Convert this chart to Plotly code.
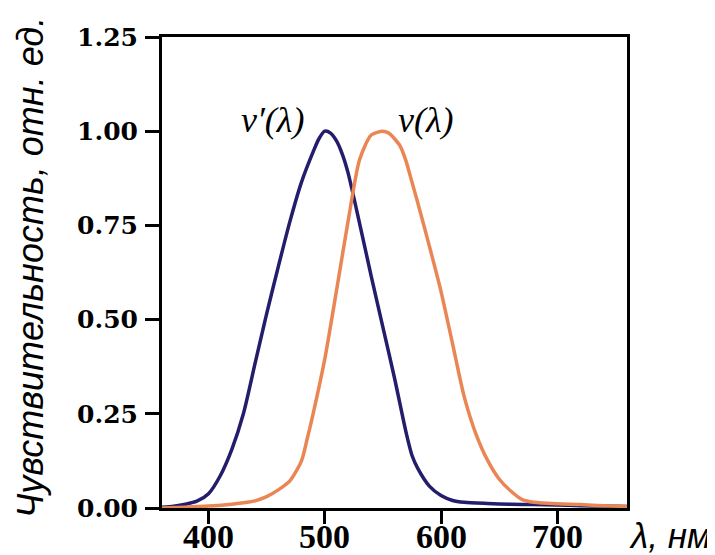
import plotly.graph_objects as go

# ---- data ----
wl_scot = [360, 370, 380, 390, 400, 410, 420, 430, 440, 450, 460, 470, 480, 490, 495, 500, 505, 510,
           515, 520, 530, 540, 550, 560, 570, 575, 580, 590, 600, 610, 620, 640, 660, 680, 700, 720,
           740, 760]
v_scot = [0.002, 0.005, 0.010, 0.018, 0.038, 0.085, 0.155, 0.250, 0.383, 0.515, 0.640, 0.760, 0.865,
          0.945, 0.980, 1.000, 0.995, 0.975, 0.940, 0.890, 0.755, 0.615, 0.480, 0.345, 0.200, 0.140,
          0.105, 0.058, 0.033, 0.020, 0.015, 0.012, 0.010, 0.009, 0.008, 0.006, 0.005, 0.004]

wl_phot = [360, 380, 400, 420, 430, 440, 450, 460, 470, 480, 485, 490, 500, 510, 520, 530, 540, 550,
           555, 560, 565, 570, 575, 580, 590, 600, 610, 620, 630, 640, 650, 660, 670, 680, 700, 720,
           740, 760]
v_phot = [0.000, 0.002, 0.005, 0.010, 0.014, 0.019, 0.030, 0.048, 0.072, 0.125, 0.185, 0.250, 0.395,
          0.575, 0.760, 0.925, 0.990, 1.000, 0.995, 0.980, 0.960, 0.920, 0.865, 0.810, 0.695, 0.575,
          0.435, 0.295, 0.197, 0.127, 0.077, 0.045, 0.022, 0.015, 0.011, 0.009, 0.006, 0.004]

x_ticks = [400, 500, 600, 700]
y_ticks = [0.00, 0.25, 0.50, 0.75, 1.00, 1.25]

label_scot = "ν′(λ)"
label_phot = "ν(λ)"
y_title = "Чувствительность, отн. ед."
x_title = "λ, нм"

# ---- layout geometry (pixels of the browser window; page body has an 8px margin) ----
OFF = 8
W, H = 715 - OFF, 555 - OFF
L, T = 162 - OFF, 37 - OFF
PW, PH = 465, 471
R, B = W - L - PW, H - T - PH


def px(x):
    return (x - OFF - L) / PW


def py(y):
    return (T + PH - (y - OFF)) / PH


BLUE = "#231d6c"
ORANGE = "#ea8654"

fig = go.Figure()
fig.add_trace(go.Scatter(x=wl_scot, y=v_scot, mode="lines",
                         line=dict(color=BLUE, width=3.5, shape="spline", smoothing=0.7),
                         showlegend=False, hoverinfo="skip"))
fig.add_trace(go.Scatter(x=wl_phot, y=v_phot, mode="lines",
                         line=dict(color=ORANGE, width=3.5, shape="spline", smoothing=0.7),
                         showlegend=False, hoverinfo="skip"))

fig.update_layout(
    width=W, height=H,
    margin=dict(l=L, r=R, t=T, b=B, pad=0, autoexpand=False),
    paper_bgcolor="white", plot_bgcolor="white",
    xaxis=dict(range=[360, 760], tickvals=x_ticks, showticklabels=False,
               automargin=False,
               showgrid=False, zeroline=False, showline=True, linecolor="black", linewidth=3,
               mirror=True, ticks="outside", ticklen=13, tickwidth=3, tickcolor="black"),
    yaxis=dict(range=[0, 1.25], tickvals=y_ticks, ticktext=[f"{v:.2f}" for v in y_ticks],
               automargin=False, ticklabelstandoff=2,
               showgrid=False, zeroline=False, showline=True, linecolor="black", linewidth=3,
               mirror=True, ticks="outside", ticklen=14, tickwidth=3, tickcolor="black",
               tickfont=dict(family="DejaVu Serif", size=25, color="black", weight="bold")),
)

# x tick labels, placed at the axis tick values
for v in x_ticks:
    fig.add_annotation(x=v, xref="x", y=py(536), yref="paper", text=str(v),
                       showarrow=False, xanchor="center", yanchor="middle", borderpad=0,
                       font=dict(family="Liberation Serif", size=34, color="black", weight="bold"))

fig.add_annotation(x=px(30), y=py(268), xref="paper", yref="paper", text=y_title,
                   textangle=-90, showarrow=False, xanchor="center", yanchor="middle",
                   font=dict(family="Liberation Sans", size=36, color="black", style="italic"))
fig.add_annotation(x=px(712), y=py(535), xref="paper", yref="paper", text=x_title,
                   showarrow=False, xanchor="right", yanchor="middle", borderpad=0,
                   font=dict(family="Liberation Sans", size=35, color="black", style="italic"))
fig.add_annotation(x=px(272), y=py(120), xref="paper", yref="paper", text=label_scot,
                   showarrow=False, xanchor="center", yanchor="middle",
                   font=dict(family="Liberation Serif", size=36, color="black", style="italic"))
fig.add_annotation(x=px(426), y=py(120), xref="paper", yref="paper", text=label_phot,
                   showarrow=False, xanchor="center", yanchor="middle",
                   font=dict(family="Liberation Serif", size=36, color="black", style="italic"))

fig.write_html("out.html")
